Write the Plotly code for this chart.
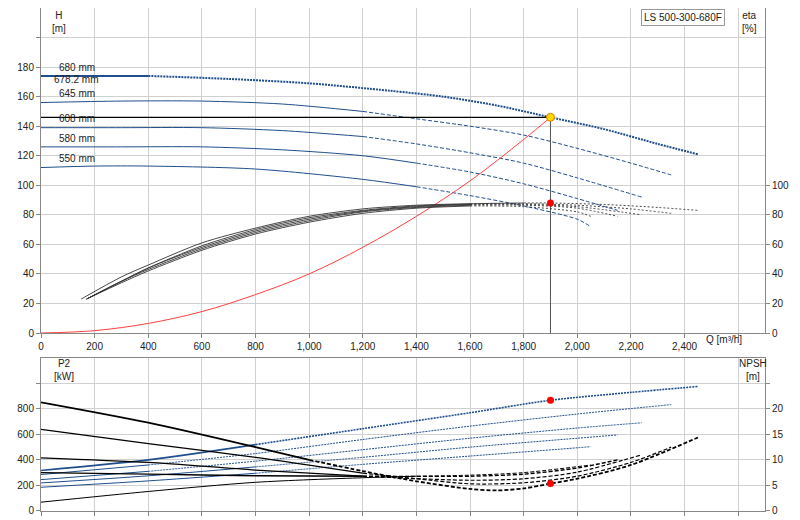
import plotly.graph_objects as go

diameters = ["680 mm", "678.2 mm", "645 mm", "608 mm", "580 mm", "550 mm"]

# H curves (Q, H)
q680 = [0, 200, 400, 700, 1000, 1300, 1500, 1700, 1900, 2100, 2300, 2450]
h680 = [174, 174, 174, 172, 169, 164, 160, 154, 146, 138, 128, 121]
q645 = [0, 300, 600, 900, 1200, 1400, 1600, 1800, 2000, 2200, 2350]
h645 = [156, 157, 157, 155, 150, 145, 140, 134, 125, 115, 107]
q608 = [0, 300, 600, 900, 1200, 1400, 1600, 1800, 2000, 2240]
h608 = [139, 139, 139, 137, 133, 128, 122, 115, 105, 92]
q580 = [0, 300, 600, 900, 1200, 1400, 1600, 1800, 2000, 2150]
h580 = [126, 126, 126, 124, 120, 115, 109, 101, 91, 83]
q550 = [0, 200, 400, 800, 1200, 1400, 1600, 1800, 2000, 2050]
h550 = [112, 113, 113, 111, 104, 99, 93, 86, 77, 72]

# efficiency curves
qe680 = [150, 300, 400, 600, 800, 1000, 1200, 1400, 1600, 1800, 1900, 2100, 2300, 2450]
e680 = [23, 38, 46, 61, 71, 79, 84, 86.5, 87.5, 88, 88, 87, 85, 83]
qe645 = [170, 300, 400, 600, 800, 1000, 1200, 1400, 1600, 1800, 2000, 2200, 2350]
e645 = [23, 35, 44, 59, 70, 78, 83, 86, 87.3, 87.5, 86.5, 84, 81]
qe608 = [170, 300, 400, 600, 800, 1000, 1200, 1400, 1600, 1800, 2000, 2240]
e608 = [23, 35, 44, 58, 69, 77, 82.5, 85.5, 87, 87, 85.5, 80]
qe580 = [170, 300, 400, 600, 800, 1000, 1200, 1400, 1600, 1800, 2000, 2150]
e580 = [23, 35, 43, 57, 68, 76, 82, 85, 86.5, 86.5, 84.5, 79]
qe550 = [170, 300, 400, 600, 800, 1000, 1200, 1400, 1600, 1800, 2000, 2050]
e550 = [23, 34, 42, 56, 67, 75, 81, 84.5, 86, 85.5, 82, 79]

# system curve
q_sys = [0, 200, 400, 600, 800, 1000, 1200, 1400, 1600, 1800, 1900]
h_sys = [0, 1.6, 6.5, 14.5, 26, 40, 58, 79, 103, 131, 146]

op_q, op_h, op_eta, op_p2, op_npsh = 1900, 146, 88, 868, 5.35

# P2 curves (kW)
qp680 = [0, 400, 800, 1200, 1600, 1900, 2200, 2450]
p680 = [317, 400, 520, 645, 770, 868, 930, 976]
qp645 = [0, 400, 800, 1200, 1600, 2000, 2350]
p645 = [285, 360, 450, 560, 665, 760, 834]
qp608 = [0, 400, 800, 1200, 1600, 2000, 2240]
p608 = [245, 310, 390, 480, 570, 650, 691]
qp580 = [0, 400, 800, 1200, 1600, 2000, 2150]
p580 = [219, 275, 345, 420, 500, 570, 596]
qp550 = [0, 400, 800, 1200, 1600, 2000, 2050]
p550 = [185, 235, 295, 365, 430, 495, 504]

# NPSH curves (m)
qn680 = [0, 400, 800, 1000, 1200, 1400, 1600, 1700, 1800, 1900, 2000, 2200, 2450]
n680 = [21.3, 17.3, 12.5, 10, 7.8, 5.8, 4.3, 4.0, 4.4, 5.35, 6.3, 9.0, 14.4]
qn645 = [0, 400, 800, 1200, 1400, 1600, 1800, 2000, 2200, 2350]
n645 = [16, 13.2, 10.5, 7.4, 6.3, 5.3, 5.5, 6.8, 9.5, 12.5]
qn608 = [0, 400, 800, 1200, 1600, 1800, 2000, 2240]
n608 = [10.4, 9.5, 8.0, 6.8, 6.0, 6.3, 7.6, 11]
qn580 = [0, 400, 800, 1200, 1600, 1800, 2000, 2150]
n580 = [7.5, 7.2, 6.9, 6.8, 6.8, 7.2, 8.4, 10]
qn550 = [0, 400, 800, 1200, 1400, 1600, 1800, 2050]
n550 = [1.7, 3.8, 5.6, 6.5, 6.8, 7.0, 7.5, 9]

x_ticks = list(range(0, 2601, 200))
x_labels = [f"{v:,}" for v in range(0, 2401, 200)] + [""]

BLUE = "#1f4e8c"
fig = go.Figure()

def split(qs, vs, qsplit, color, xa, ya, width=1.0, dash="3px,2px"):
    a = [(q, v) for q, v in zip(qs, vs) if q <= qsplit]
    b = [(q, v) for q, v in zip(qs, vs) if q >= a[-1][0]]
    fig.add_trace(go.Scatter(x=[p[0] for p in a], y=[p[1] for p in a], mode="lines",
                             line=dict(color=color, width=width, shape="spline", smoothing=0.8),
                             xaxis=xa, yaxis=ya, showlegend=False, hoverinfo="skip"))
    fig.add_trace(go.Scatter(x=[p[0] for p in b], y=[p[1] for p in b], mode="lines",
                             line=dict(color=color, width=width, dash=dash, shape="spline", smoothing=0.8),
                             xaxis=xa, yaxis=ya, showlegend=False, hoverinfo="skip"))

H = [(q680, h680, 400, 2.0), (q645, h645, 1200, 1), (q608, h608, 1200, 1), (q580, h580, 1400, 1), (q550, h550, 1400, 1)]
for qs, hs, s, w in H:
    split(qs, hs, s, BLUE, "x", "y", w, "2px,1px" if w > 1.5 else "4px,2px")
E = [(qe680, e680, 1800), (qe645, e645, 1600), (qe608, e608, 1600), (qe580, e580, 1600), (qe550, e550, 1600)]
for qs, es, s in E:
    split(qs, es, s, "#333", "x", "y2", 0.9, "2px,2px")

fig.add_trace(go.Scatter(x=q_sys, y=h_sys, mode="lines", line=dict(color="#ff4040", width=1, shape="spline"),
                         showlegend=False, hoverinfo="skip"))
fig.add_trace(go.Scatter(x=[0, op_q], y=[op_h, op_h], mode="lines", line=dict(color="black", width=1.2),
                         showlegend=False, hoverinfo="skip"))
fig.add_trace(go.Scatter(x=[op_q, op_q], y=[op_h, 0], mode="lines", line=dict(color="#555", width=1),
                         showlegend=False, hoverinfo="skip"))
fig.add_trace(go.Scatter(x=[op_q], y=[op_eta], mode="markers", marker=dict(color="red", size=7),
                         yaxis="y2", showlegend=False))
fig.add_trace(go.Scatter(x=[op_q], y=[op_h], mode="markers",
                         marker=dict(color="#ffd700", size=8, line=dict(color="#e08000", width=1)), showlegend=False))

P = [(qp680, p680, 800, 1.6), (qp645, p645, 400, 1), (qp608, p608, 400, 1), (qp580, p580, 800, 1), (qp550, p550, 800, 1)]
for qs, ps, s, w in P:
    split(qs, ps, s, BLUE, "x2", "y3", w, "2px,1px")
N = [(qn680, n680, 1000, 1.8), (qn645, n645, 1200, 1.2), (qn608, n608, 1200, 1.2), (qn580, n580, 1400, 1.4), (qn550, n550, 1400, 1)]
for qs, ns, s, w in N:
    split(qs, ns, s, "black", "x2", "y4", w, "4px,2px")
fig.add_trace(go.Scatter(x=[op_q], y=[op_p2], mode="markers", marker=dict(color="red", size=7),
                         xaxis="x2", yaxis="y3", showlegend=False))
fig.add_trace(go.Scatter(x=[op_q], y=[op_npsh], mode="markers", marker=dict(color="red", size=7),
                         xaxis="x2", yaxis="y4", showlegend=False))

lbl_y = [180, 171.5, 162, 145, 132, 118]
anns = [dict(x=60, y=yy, text=t, showarrow=False, xanchor="left", font=dict(size=10, color="#222"))
        for t, yy in zip(diameters, lbl_y)]
anns[1]["x"] = 40
tf = dict(size=10, color="#222")
anns += [
    dict(xref="paper", yref="paper", x=0.012, y=1.0, text="H<br>[m]", showarrow=False, yanchor="top", font=tf),
    dict(xref="paper", yref="paper", x=0.965, y=1.0, text="eta<br>[%]", showarrow=False, yanchor="top", xanchor="left", font=tf),
    dict(xref="paper", yref="paper", x=0.916, y=0.362, text="Q [m³/h]", showarrow=False, xanchor="left", font=tf),
    dict(xref="paper", yref="paper", x=0.015, y=0.33, text="P2<br>[kW]", showarrow=False, yanchor="top", font=tf),
    dict(xref="paper", yref="paper", x=0.962, y=0.33, text="NPSH<br>[m]", showarrow=False, yanchor="top", xanchor="left", font=tf),
    dict(xref="paper", yref="paper", x=0.945, y=0.999, text="LS 500-300-680F", showarrow=False,
         xanchor="right", yanchor="top", font=tf, bordercolor="#999", borderwidth=1, bgcolor="white", borderpad=2),
]

ax = dict(showgrid=True, gridcolor="#d0d0d0", linecolor="#888", showline=True, zeroline=False, automargin=False,
          ticks="outside", tickcolor="#888", ticklen=4, tickfont=dict(size=10, color="#222"))
fig.update_layout(
    width=800, height=520, plot_bgcolor="white", paper_bgcolor="white",
    margin=dict(l=33, r=43, t=0, b=0, autoexpand=False), font=dict(family="Liberation Sans, Arial"),
    xaxis=dict(ax, domain=[0, 1], range=[0, 2700], tickvals=x_ticks, ticktext=x_labels, anchor="y", mirror=True),
    yaxis=dict(ax, domain=[0.375, 1], range=[0, 220], tickvals=list(range(0, 201, 20)),
               ticktext=[str(v) for v in range(0, 181, 20)] + [""], anchor="x"),
    yaxis2=dict(ax, overlaying="y", side="right", range=[0, 220], tickvals=list(range(0, 101, 20)),
                showgrid=False, anchor="x"),
    xaxis2=dict(ax, domain=[0, 1], range=[0, 2700], tickvals=x_ticks, showticklabels=False, anchor="y3", mirror=True),
    yaxis3=dict(ax, domain=[0.033, 0.327], range=[0, 1200], tickvals=list(range(0, 1001, 200)),
                ticktext=["0", "200", "400", "600", "800", ""], anchor="x2"),
    yaxis4=dict(ax, overlaying="y3", side="right", range=[0, 30], tickvals=list(range(0, 26, 5)),
                ticktext=["0", "5", "10", "15", "20", ""], showgrid=False, anchor="x2"),
    annotations=anns,
)
fig.write_html("out.html")
